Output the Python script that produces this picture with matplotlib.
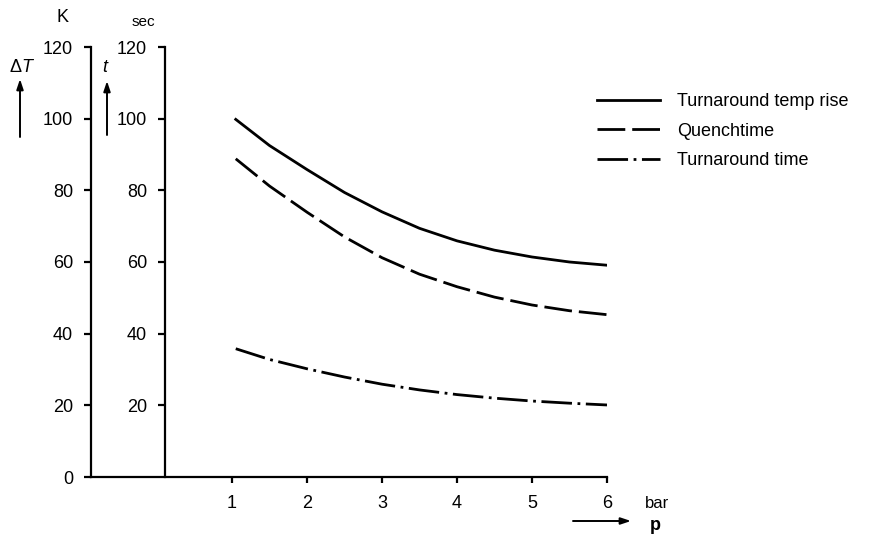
import numpy as np
import matplotlib
matplotlib.use('Agg')
import matplotlib.pyplot as plt

plt.rcParams['font.family'] = ['Liberation Sans', 'DejaVu Sans']
plt.rcParams['mathtext.fontset'] = 'custom'
plt.rcParams['mathtext.rm'] = 'Liberation Sans'
plt.rcParams['mathtext.it'] = 'Liberation Sans:italic'

# Data
p = [1.05, 1.5, 2., 2.5, 3., 3.5, 4., 4.5, 5., 5.5, 6.]
temp_rise = [99.8, 92.5, 85.8, 79.4, 74., 69.4, 65.9, 63.3, 61.4, 60., 59.1]
quenchtime = [88.8, 81.2, 73.9, 67., 61.2, 56.6, 53.1, 50.2, 48., 46.4, 45.3]
turn_time = [35.8, 32.8, 30.2, 27.9, 25.9, 24.3, 23., 22., 21.2, 20.6, 20.1]
labels = ['Turnaround temp rise', 'Quenchtime', 'Turnaround time']
y_ticks = [0, 20, 40, 60, 80, 100, 120]
x_ticks = [1, 2, 3, 4, 5, 6]

W, H = 882, 536
fig = plt.figure(figsize=(W / 100., H / 100.), dpi=100)

# main axes: outer (K) axis at pixel 91, x = 6 at pixel 607
left, right, top, bottom = 91., 607., 47., 477.
ax = fig.add_axes([left / W, (H - bottom) / H, (right - left) / W, (bottom - top) / H])
ax.set_xlim(-0.88, 6.)
ax.set_ylim(0., 120.)
ax.patch.set_alpha(0.)
for s in ['top', 'right']:
    ax.spines[s].set_visible(False)
for s in ['left', 'bottom']:
    ax.spines[s].set_linewidth(1.6)

ax.set_yticks(y_ticks)
ax.set_xticks(x_ticks)
ax.tick_params(axis='y', direction='out', length=5, width=1.6, pad=8, labelsize=13)
ax.tick_params(axis='x', direction='out', length=4, width=1.6, pad=9, labelsize=13)

# curves
lw = 2.
ax.plot(p, temp_rise, color='k', lw=lw, label=labels[0])
ax.plot(p, quenchtime, color='k', lw=lw, dashes=(10, 2.5), label=labels[1])
ax.plot(p, turn_time, color='k', lw=lw, dashes=(11, 2, 1, 2), label=labels[2])

# inner (sec) axis
inner_x = 165.
ax2 = fig.add_axes([inner_x / W, (H - bottom) / H, 0.0001, (bottom - top) / H])
ax2.set_ylim(0., 120.)
ax2.patch.set_alpha(0.)
for s in ['top', 'right', 'bottom']:
    ax2.spines[s].set_visible(False)
ax2.spines['left'].set_linewidth(1.6)
ax2.set_xticks([])
ax2.set_yticks(y_ticks[1:])
ax2.tick_params(axis='y', direction='out', length=5, width=1.6, pad=8, labelsize=13)

# legend
fig.legend(loc='upper left', bbox_to_anchor=(597. / W, (H - 93.) / H),
           frameon=False, borderpad=0, borderaxespad=0, fontsize=13,
           handlelength=3.5, handletextpad=0.95, labelspacing=0.7)

# axis names and arrows
def fy(y):
    return H - y

fig.text(63. / W, fy(17.) / H, 'K', fontsize=13, ha='center', va='center')
fig.text(143. / W, fy(22.) / H, 'sec', fontsize=11, ha='center', va='center')
fig.text(22. / W, fy(67.) / H, r'$\Delta T$', fontsize=13, ha='center', va='center')
fig.text(106. / W, fy(68.) / H, r'$t$', fontsize=13, ha='center', va='center',
         fontweight='bold')
fig.text(657. / W, fy(503.) / H, 'bar', fontsize=12, ha='center', va='center')
fig.text(655. / W, fy(525.) / H, 'p', fontsize=13, ha='center', va='center',
         fontweight='bold')

arrow = dict(arrowstyle='-|>,head_length=0.6,head_width=0.2', color='k', lw=1.4,
             shrinkA=0, shrinkB=0)
ax.annotate('', xy=(20., fy(79.)), xytext=(20., fy(137.)),
            xycoords='figure pixels', textcoords='figure pixels', arrowprops=arrow,
            annotation_clip=False)
ax.annotate('', xy=(107., fy(81.)), xytext=(107., fy(135.)),
            xycoords='figure pixels', textcoords='figure pixels', arrowprops=arrow,
            annotation_clip=False)
ax.annotate('', xy=(631., fy(521.)), xytext=(573., fy(521.)),
            xycoords='figure pixels', textcoords='figure pixels', arrowprops=arrow,
            annotation_clip=False)

fig.savefig('out.png', dpi=100)
